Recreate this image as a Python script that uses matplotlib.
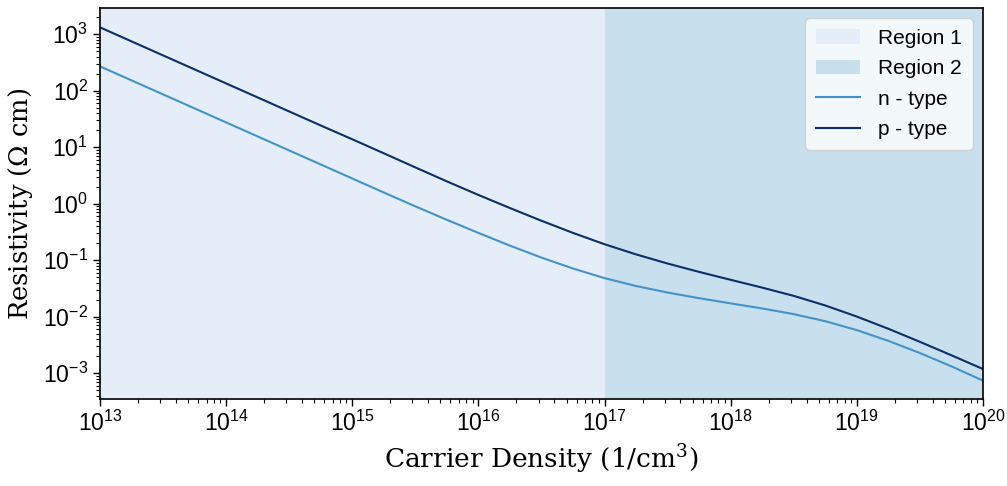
import numpy as np
import matplotlib
matplotlib.use("Agg")
import matplotlib.pyplot as plt

log_n = [13.0, 13.25, 13.5, 13.75, 14.0, 14.25, 14.5, 14.75, 15.0, 15.25, 15.5, 15.75,
         16.0, 16.25, 16.5, 16.75, 17.0, 17.25, 17.5, 17.75, 18.0, 18.25, 18.5, 18.75,
         19.0, 19.25, 19.5, 19.75, 20.0]
# log10 of resistivity (ohm cm)
log_rho_n = [2.43, 2.182, 1.934, 1.686, 1.438, 1.19, 0.942, 0.694, 0.446, 0.198, -0.047, -0.285,
             -0.517, -0.742, -0.954, -1.147, -1.317, -1.457, -1.572, -1.672, -1.764, -1.854,
             -1.954, -2.079, -2.237, -2.427, -2.642, -2.878, -3.13]
log_rho_p = [3.12, 2.872, 2.624, 2.376, 2.128, 1.88, 1.632, 1.384, 1.14, 0.892, 0.642, 0.395,
             0.155, -0.077, -0.302, -0.517, -0.717, -0.897, -1.059, -1.207, -1.347, -1.485,
             -1.631, -1.801, -1.997, -2.213, -2.444, -2.682, -2.925]

region1 = (1e13, 1e17)
region2 = (1e17, 1e20)

density = 10.0 ** np.array(log_n)
rho_n = 10.0 ** np.array(log_rho_n)
rho_p = 10.0 ** np.array(log_rho_p)

plt.rcParams['font.family'] = ['Liberation Sans', 'DejaVu Sans']

fig = plt.figure(figsize=(10.07, 4.86), dpi=100)
ax = fig.add_axes([0.0993, 0.179, 0.8768, 0.8045])

ax.axvspan(*region1, color="#e5eef8", lw=0, label="Region 1")
ax.axvspan(*region2, color="#c8dfed", lw=0, label="Region 2")
ax.plot(density, rho_n, color="#4393c8", lw=1.5, label="n - type")
ax.plot(density, rho_p, color="#0b2f69", lw=1.5, label="p - type")

ax.set_xscale("log")
ax.set_yscale("log")
ax.set_xlim(1e13, 1e20)
ax.set_ylim(3.5e-4, 2.9e3)
ax.set_xticks([10.0 ** k for k in range(13, 21)])
ax.set_yticks([10.0 ** k for k in range(-3, 4)])

ax.tick_params(axis="both", which="major", labelsize=16.5, length=5, width=1)
ax.tick_params(axis="both", which="minor", length=3, width=0.8)
for s in ax.spines.values():
    s.set_linewidth(1.2)

ax.set_xlabel(r"Carrier Density (1/cm$\mathdefault{^{3}}$)", fontsize=19,
              family="DejaVu Serif", labelpad=5)
ax.set_ylabel(r"Resistivity ($\mathdefault{\Omega}$ cm)", fontsize=18.5,
              family="DejaVu Serif", labelpad=6)

leg = ax.legend(loc="upper right", fontsize=15, framealpha=0.8, edgecolor="#cccccc",
                handlelength=2.1, handletextpad=0.9, labelspacing=0.55, borderpad=0.5)

fig.savefig("out.png", dpi=100)
